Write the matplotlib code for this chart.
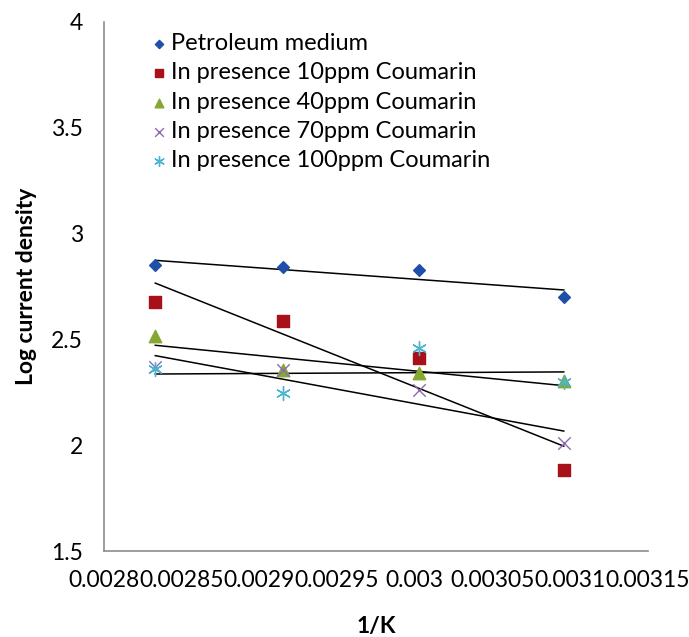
import numpy as np
import matplotlib.pyplot as plt
from matplotlib.ticker import FixedLocator

plt.rcParams['font.family'] = ['Lato', 'DejaVu Sans']

# 1/T for 353, 343, 333, 323 K
inv_k = [0.002833, 0.002915, 0.003003, 0.003096]

series_names = [
    'Petroleum medium',
    'In presence 10ppm Coumarin',
    'In presence 40ppm Coumarin',
    'In presence 70ppm Coumarin',
    'In presence 100ppm Coumarin',
]
petroleum = [2.85, 2.84, 2.83, 2.70]
ppm10 = [2.675, 2.585, 2.41, 1.885]
ppm40 = [2.515, 2.355, 2.34, 2.305]
ppm70 = [2.37, 2.355, 2.26, 2.01]
ppm100 = [2.36, 2.245, 2.46, 2.30]

y_ticks = [1.5, 2, 2.5, 3, 3.5, 4]
y_tick_labels = ['1.5', '2', '2.5', '3', '3.5', '4']
x_ticks = [0.0028, 0.00285, 0.0029, 0.00295, 0.003, 0.00305, 0.0031, 0.00315]
x_tick_labels = ['0.0028', '0.00285', '0.0029', '0.00295', '0.003',
                 '0.00305', '0.0031', '0.00315']

styles = [
    dict(marker='D', color='#1F4FA8', s=36),
    dict(marker='s', color='#A8111A', s=80),
    dict(marker='^', color='#86A832', s=80),
    dict(marker='x', color='#8E6AB3', s=80, linewidths=1.0),
    dict(marker=(6, 2, 0), color='#4BB4D0', s=100, linewidths=1.0),
]

fig = plt.figure(figsize=(6.89, 6.37), dpi=100)
ax = fig.add_axes([0.151, 0.135, 0.789, 0.8305])

all_series = [petroleum, ppm10, ppm40, ppm70, ppm100]
for name, vals, st in zip(series_names, all_series, styles):
    ax.scatter(inv_k, vals, label=name, zorder=3, **st)

# linear trend lines
xs = np.array(inv_k)
for vals in all_series:
    k, b = np.polyfit(xs, vals, 1)
    ax.plot([xs[0], xs[-1]], [k * xs[0] + b, k * xs[-1] + b], color='black',
            lw=1.1, zorder=2)

ax.set_xlim(0.0028, 0.00315)
ax.set_ylim(1.5, 4)
ax.yaxis.set_major_locator(FixedLocator(y_ticks))
ax.set_yticklabels(y_tick_labels)
ax.xaxis.set_major_locator(FixedLocator(x_ticks))
ax.set_xticklabels(x_tick_labels)
ax.tick_params(axis='both', length=0, labelsize=16.5)
ax.tick_params(axis='x', pad=14)
ax.tick_params(axis='y', pad=15)

for side in ['top', 'right']:
    ax.spines[side].set_visible(False)
for side in ['left', 'bottom']:
    ax.spines[side].set_color('#8c8c8c')
    ax.spines[side].set_linewidth(1.2)

ax.set_xlabel('1/K', fontsize=16.5, fontweight='bold', labelpad=18)
ax.set_ylabel('Log current density', fontsize=16.5, fontweight='bold', labelpad=10)

ax.legend(loc='upper left', bbox_to_anchor=(0.049, 1.01), frameon=False,
          fontsize=17, handletextpad=0.0, labelspacing=0.35, handlelength=1.0,
          borderaxespad=0.3, scatterpoints=1, markerscale=0.7)

fig.savefig('out.png', dpi=100)
